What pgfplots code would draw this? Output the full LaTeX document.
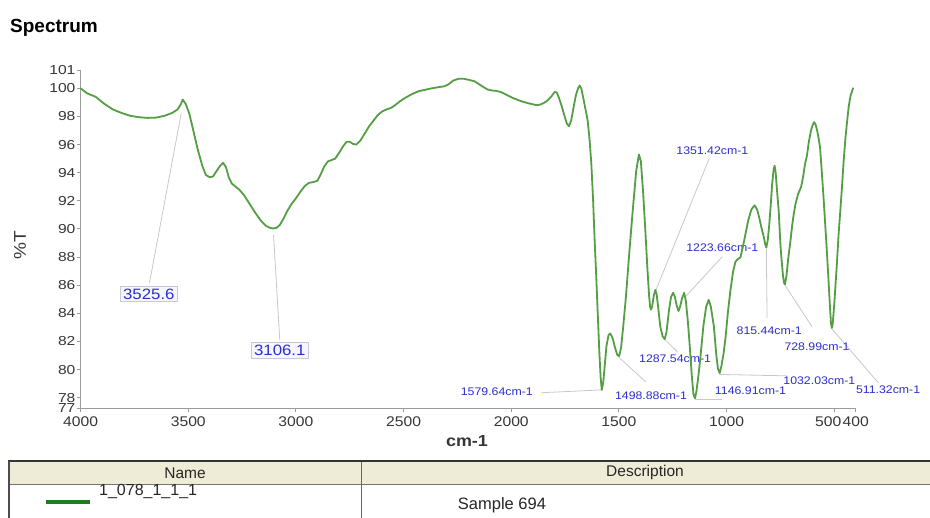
\documentclass[border=0pt]{standalone}
\usepackage{pgfplots}
\pgfplotsset{compat=1.18}
\usepackage{fontspec}
\setmainfont{Liberation Sans}
\newfontfamily\tickfont[FakeStretch=1.12]{Liberation Sans}
\newfontfamily\ytickfont[FakeStretch=1.2]{Liberation Sans}
\newfontfamily\peakfont[FakeStretch=1.12]{Liberation Sans}

\definecolor{spec}{RGB}{84,158,68}
\definecolor{peakblue}{RGB}{45,45,210}
\definecolor{leader}{RGB}{200,200,200}
\definecolor{axisgray}{RGB}{155,155,155}
\definecolor{tickgray}{RGB}{55,55,55}
\definecolor{headbg}{RGB}{238,236,214}
\definecolor{legendgreen}{RGB}{30,125,30}
\definecolor{boxedge}{RGB}{200,200,215}
\definecolor{boxfill}{RGB}{246,246,255}

\begin{document}
\begin{tikzpicture}[x=1pt,y=1pt]
\useasboundingbox (0,0) rectangle (930,518);
\fill[white] (0,0) rectangle (930,518);

% title
\node[anchor=base west, inner sep=0pt, font=\bfseries\fontsize{19}{19}\selectfont] at (10,485) {Spectrum};

\begin{axis}[
  at={(80.6pt,109.8pt)}, anchor=south west,
  width=775.2pt, height=338.1pt, scale only axis,
  xmin=400, xmax=4000, x dir=reverse,
  ymin=77.25, ymax=101.3,
  axis x line*=bottom, axis y line*=left,
  axis line style={draw=axisgray, line width=1pt, -},
  tick style={draw=axisgray, line width=1pt},
  tick align=outside, major tick length=4pt,
  xtick={4000,3500,3000,2500,2000,1500,1000,500,400},
  xticklabels={4000,3500,3000,2500,2000,1500,1000,{\hspace*{-12pt}500},400},
  ytick={77.25,78,80,82,84,86,88,90,92,94,96,98,100,101.3},
  yticklabels={77,78,80,82,84,86,88,90,92,94,96,98,100,101},
  xticklabel style={font=\tickfont\fontsize{14}{14}\selectfont, text=tickgray, inner sep=1pt, yshift=-3pt},
  yticklabel style={font=\ytickfont\fontsize{13}{13}\selectfont, text=tickgray, inner sep=0pt, xshift=-1pt},
  clip=false,
]

% leader lines from peak labels to the curve
\draw[leader, line width=0.8pt] (axis cs:3680,86.17) -- (axis cs:3533,98.2);
\draw[leader, line width=0.8pt] (axis cs:3075,82.1) -- (axis cs:3104,89.58);
\draw[leader, line width=0.8pt] (axis cs:1860,78.35) -- (axis cs:1582,78.55);
\draw[leader, line width=0.8pt] (axis cs:1498.88,80.85) -- (axis cs:1374,79.1);
\draw[leader, line width=0.8pt] (axis cs:1287.54,82.15) -- (axis cs:1229,81.26);
\draw[leader, line width=0.8pt] (axis cs:1081,95.0) -- (axis cs:1328,85.66);
\draw[leader, line width=0.8pt] (axis cs:1020,88.03) -- (axis cs:1190,85.2);
\draw[leader, line width=0.8pt] (axis cs:1146.91,77.9) -- (axis cs:1021,77.9);
\draw[leader, line width=0.8pt] (axis cs:1032.03,79.65) -- (axis cs:719,79.55);
\draw[leader, line width=0.8pt] (axis cs:815.44,88.6) -- (axis cs:812,83.66);
\draw[leader, line width=0.8pt] (axis cs:728.99,86.0) -- (axis cs:604,83.06);
\draw[leader, line width=0.8pt] (axis cs:511.32,82.9) -- (axis cs:295,79.05);

% boxed labels
\node[draw=boxedge, fill=boxfill, line width=0.7pt, inner sep=2.5pt, text=peakblue,
      font=\peakfont\fontsize{15}{15}\selectfont] at (axis cs:3683,85.37) {3525.6};
\node[draw=boxedge, fill=boxfill, line width=0.7pt, inner sep=2.5pt, text=peakblue,
      font=\peakfont\fontsize{15}{15}\selectfont] at (axis cs:3075,81.36) {3106.1};

% peak labels
\begin{scope}[every node/.style={text=peakblue, inner sep=0pt, font=\peakfont\fontsize{11}{11}\selectfont}]
\node at (axis cs:2067,78.41) {1579.64cm-1};
\node at (axis cs:1351,78.15) {1498.88cm-1};
\node at (axis cs:1239,80.75) {1287.54cm-1};
\node at (axis cs:1066,95.6) {1351.42cm-1};
\node at (axis cs:1020,88.63) {1223.66cm-1};
\node at (axis cs:889,78.5) {1146.91cm-1};
\node at (axis cs:569,79.19) {1032.03cm-1};
\node at (axis cs:802,82.76) {815.44cm-1};
\node at (axis cs:580,81.63) {728.99cm-1};
\node at (axis cs:250,78.6) {511.32cm-1};
\end{scope}

% transmittance spectrum
\addplot[spec, line width=1.8pt, line join=round, no markers] coordinates {
(4000,100.0) (3970,99.65) (3930,99.4) (3890,98.9) (3850,98.5) (3810,98.25)
(3770,98.05) (3730,97.95) (3690,97.9) (3650,97.92) (3610,98.05) (3575,98.25)
(3550,98.5) (3535,98.85) (3525.6,99.2) (3512,98.9) (3495,98.2) (3475,96.9)
(3455,95.6) (3435,94.5) (3418,93.83) (3400,93.68) (3385,93.73) (3370,94.08)
(3352,94.5) (3338,94.7) (3325,94.4) (3312,93.68) (3298,93.23) (3282,93.03)
(3262,92.78) (3240,92.38) (3215,91.78) (3190,91.18) (3165,90.63) (3140,90.23)
(3120,90.08) (3106.1,90.03) (3090,90.08) (3075,90.28) (3058,90.73) (3040,91.28)
(3020,91.78) (3000,92.18) (2980,92.63) (2960,93.03) (2940,93.28) (2920,93.33)
(2900,93.43) (2885,93.88) (2870,94.4) (2852,94.8) (2835,94.9) (2818,95.0)
(2800,95.4) (2780,95.9) (2765,96.2) (2750,96.2) (2735,96.05) (2720,96.0)
(2700,96.3) (2680,96.8) (2660,97.3) (2640,97.7) (2620,98.1) (2600,98.35)
(2580,98.5) (2560,98.6) (2540,98.8) (2515,99.1) (2490,99.35) (2460,99.6)
(2430,99.8) (2400,99.9) (2370,100.0) (2340,100.08) (2310,100.15) (2290,100.3)
(2270,100.55) (2245,100.68) (2220,100.68) (2195,100.6) (2170,100.5) (2150,100.3)
(2130,100.1) (2110,99.92) (2090,99.85) (2070,99.82) (2050,99.75) (2030,99.6)
(2010,99.45) (1990,99.3) (1965,99.15) (1940,99.02) (1915,98.92) (1895,98.85)
(1880,98.8) (1865,98.85) (1850,98.95) (1835,99.1) (1815,99.4) (1798,99.75)
(1788,99.7) (1778,99.3) (1765,98.7) (1752,98.0) (1742,97.5) (1732,97.3)
(1722,97.7) (1710,98.7) (1700,99.5) (1690,100.0) (1682,100.2) (1674,99.95)
(1664,99.2) (1655,98.5) (1645,97.7) (1636,96.3) (1628,94.6) (1620,92.08)
(1613,89.28) (1606,86.86) (1598,83.86) (1591,81.26) (1585,79.45) (1579.64,78.55)
(1573,79.05) (1566,80.25) (1558,81.66) (1548,82.46) (1540,82.56) (1530,82.26)
(1518,81.56) (1508,81.05) (1498.88,80.95) (1490,81.56) (1480,83.06) (1467,85.26)
(1452,88.28) (1436,91.28) (1420,94.1) (1407,95.3) (1398,94.8) (1388,92.68)
(1378,90.08) (1368,87.26) (1360,85.26) (1355,84.46) (1351.42,84.26) (1346,84.46)
(1338,85.26) (1331,85.66) (1325,85.36) (1318,84.46) (1308,83.06) (1297,82.36)
(1287.54,82.16) (1279,82.66) (1268,84.16) (1258,85.16) (1248,85.46) (1240,85.16)
(1232,84.56) (1223.66,84.16) (1216,84.46) (1207,85.06) (1197,85.46) (1189,84.86)
(1180,83.46) (1172,81.86) (1162,79.65) (1154,78.25) (1146.91,77.95) (1140,78.45)
(1131,79.55) (1121,80.95) (1108,83.06) (1095,84.46) (1083,84.96) (1073,84.46)
(1059,83.06) (1048,81.06) (1040,80.05) (1032.03,79.75) (1024,80.25) (1014,81.15)
(1005,82.26) (994,84.06) (982,85.66) (970,86.96) (959,87.66) (948,87.86)
(936,87.96) (925,88.68) (913,89.58) (900,90.58) (885,91.38) (870,91.68)
(858,91.38) (848,90.78) (838,90.08) (828,89.48) (820,88.88) (815.44,88.68)
(809,89.18) (802,90.28) (796,91.48) (789,93.08) (782,94.2) (777,94.5)
(772,94.0) (766,92.78) (758,91.28) (750,88.88) (745,87.86) (738,86.66)
(733,86.16) (728.99,86.06) (722,86.66) (714,87.86) (704,89.08) (696,90.18)
(689,90.98) (680,91.78) (668,92.48) (654,92.98) (645,93.68) (636,94.6)
(627,95.2) (618,96.2) (608,97.0) (600,97.4) (593,97.6) (586,97.4)
(578,96.9) (571,96.3) (566,95.8) (558,94.1) (550,92.28) (543,90.58)
(535,88.58) (527,86.46) (520,84.46) (515,83.26) (511.32,82.96) (507,83.26)
(500,84.66) (494,86.06) (488,87.46) (480,89.58) (472,91.28) (465,92.78)
(457,94.7) (449,96.3) (442,97.4) (433,98.7) (424,99.5) (416,99.85)
(412,100.05)
};
\end{axis}

% axis titles
\node[rotate=90, text=tickgray, font=\tickfont\fontsize{17}{17}\selectfont] at (20,273) {\%T};
\node[anchor=base, text=tickgray, font=\tickfont\bfseries\fontsize{16}{16}\selectfont] at (467,71) {cm-1};

% legend table
\fill[headbg] (9,56.5) rectangle (930,34);
\draw[black!55, line width=0.8pt] (9,34) -- (930,34);
\draw[black!80, line width=2pt] (8,56.5) -- (930,56.5);
\draw[black!70, line width=1.4pt] (9,57) -- (9,0);
\draw[black!60, line width=0.8pt] (361,56) -- (361,0);
\node[font=\fontsize{15.5}{15.5}\selectfont, text=black!85] at (185,45) {Name};
\node[font=\fontsize{15.5}{15.5}\selectfont, text=black!85] at (645,45) {Description};
\draw[legendgreen, line width=3.5pt] (46,16) -- (90,16);
\node[anchor=west, inner sep=0pt, font=\fontsize{16}{16}\selectfont, text=black!85] at (99,26) {1\_078\_1\_1\_1};
\node[font=\fontsize{16.5}{16.5}\selectfont, text=black!85] at (502,13) {Sample 694};
\end{tikzpicture}
\end{document}
